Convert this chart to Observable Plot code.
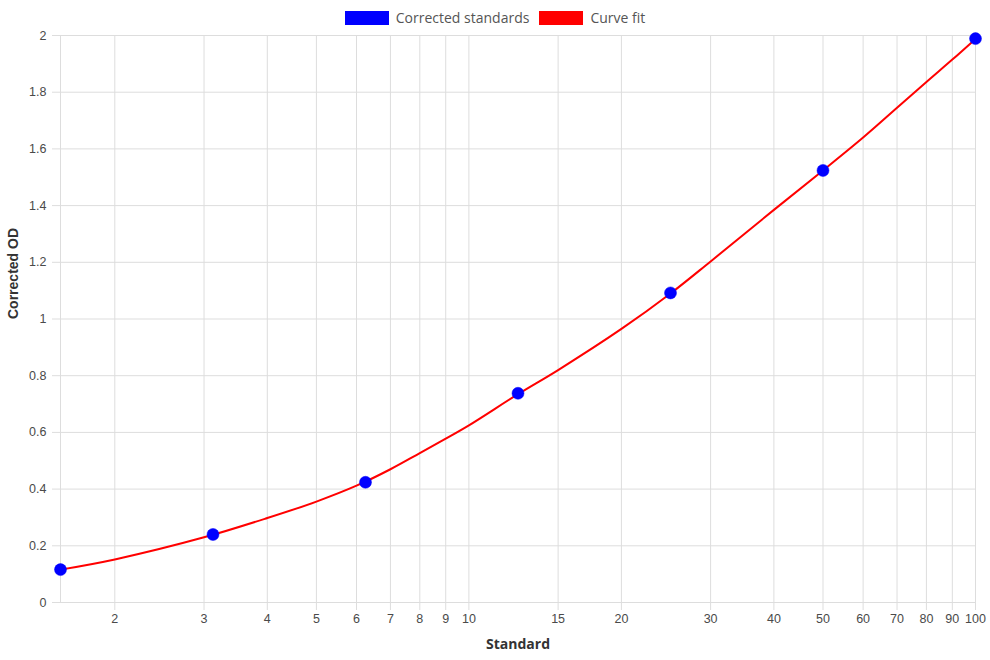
<!DOCTYPE html>
<html>
<head>
<meta charset="utf-8">
<script src="https://cdn.jsdelivr.net/npm/d3@7"></script>
<script src="https://cdn.jsdelivr.net/npm/@observablehq/plot@0.6"></script>
<style>
  html, body { margin: 0; padding: 0; background: #fff; }
  #wrap { position: relative; width: 990px; height: 660px; }
  #legend {
    position: absolute; top: 8px; left: 0; width: 990px;
    display: flex; justify-content: center; gap: 10px;
    font-family: "Open Sans", sans-serif; font-size: 14px; color: #555;
  }
  #legend .item { display: flex; align-items: center; }
  #legend .sw { display: inline-block; width: 44px; height: 14px; margin-right: 7px; }
  #chart svg { overflow: visible; }
</style>
</head>
<body>
<div id="wrap">
  <div id="legend"></div>
  <div id="chart"></div>
</div>
<script>
// Standards (concentration) and their corrected optical density
const standards = [1.5625, 3.125, 6.25, 12.5, 25, 50, 100];
const correctedOD = [0.116, 0.240, 0.424, 0.738, 1.092, 1.524, 1.989];

// Fitted standard curve, sampled along the concentration range
const fitX = [1.5625, 2, 3, 4, 5, 6, 7, 8, 9, 10, 12.5, 15, 20, 25, 30, 40, 50, 60, 70, 80, 90, 100];
const fitY = [0.116, 0.152, 0.230, 0.298, 0.356, 0.412, 0.470, 0.527, 0.578, 0.625, 0.735, 0.820, 0.965, 1.090, 1.203, 1.385, 1.524, 1.640, 1.745, 1.836, 1.915, 1.988];

// Axis tick values
const xTicks = [2, 3, 4, 5, 6, 7, 8, 9, 10, 15, 20, 30, 40, 50, 60, 70, 80, 90, 100];
const yTicks = [0, 0.2, 0.4, 0.6, 0.8, 1, 1.2, 1.4, 1.6, 1.8, 2];

const seriesNames = ["Corrected standards", "Curve fit"];
const seriesColors = ["#0000ff", "#ff0000"];

const points = standards.map((s, i) => ({x: s, y: correctedOD[i]}));
const fit = fitX.map((s, i) => ({x: s, y: fitY[i]}));

const gridColor = "#dddddd";
const labelColor = "#4a4a4a";
const tickFont = "'Liberation Sans', Arial, sans-serif";

const chart = Plot.plot({
  width: 990,
  height: 660,
  marginTop: 35,
  marginRight: 15,
  marginBottom: 58,
  marginLeft: 60,
  style: {fontFamily: tickFont, background: "transparent"},
  x: {type: "log", domain: [1.5625, 100]},
  y: {domain: [0, 2]},
  marks: [
    Plot.gridX(xTicks, {stroke: gridColor, strokeOpacity: 1}),
    Plot.gridY(yTicks, {stroke: gridColor, strokeOpacity: 1, x1: 1.5625, x2: 100}),
    Plot.ruleX([1.5625], {stroke: gridColor, strokeOpacity: 1}),
    // x tick marks only; the labels are placed by the text mark below
    Plot.axisX({ticks: xTicks, tickSize: 8, tickFormat: () => "", stroke: gridColor, label: null}),
    Plot.text(xTicks, {
      x: d => d, frameAnchor: "bottom", dy: 20, text: d => String(d),
      fill: labelColor, fontSize: 12.5, fontFamily: tickFont
    }),
    Plot.axisY({
      ticks: yTicks, tickSize: 8, tickPadding: 6, tickFormat: d => String(+d.toFixed(1)),
      stroke: gridColor, fill: labelColor, fontSize: 12.5, label: null
    }),
    Plot.line(fit, {x: "x", y: "y", stroke: seriesColors[1], strokeWidth: 2, curve: "catmull-rom"}),
    Plot.dot(points, {x: "x", y: "y", r: 6, fill: seriesColors[0], stroke: seriesColors[0], strokeWidth: 0.5}),
    Plot.text(["Standard"], {
      frameAnchor: "bottom", dy: 46, fontSize: 14, fontWeight: "bold", fill: "#333",
      fontFamily: "'Open Sans', sans-serif"
    }),
    Plot.text(["Corrected OD"], {
      frameAnchor: "left", dx: -47, rotate: -90, fontSize: 14, fontWeight: "bold", fill: "#333",
      fontFamily: "'Liberation Sans', Arial, sans-serif"
    })
  ]
});
document.getElementById("chart").append(chart);

// Legend above the plot
const legend = document.getElementById("legend");
seriesNames.forEach((name, i) => {
  const item = document.createElement("span");
  item.className = "item";
  const sw = document.createElement("span");
  sw.className = "sw";
  sw.style.background = seriesColors[i];
  item.append(sw, document.createTextNode(name));
  legend.append(item);
});
</script>
</body>
</html>
